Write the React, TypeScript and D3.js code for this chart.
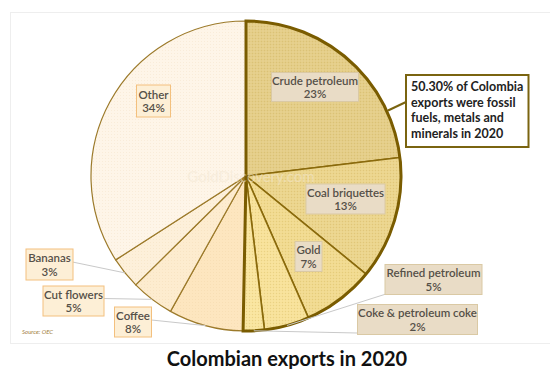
import React from "react";
import * as d3 from "d3";

const categories = [
  "Crude petroleum",
  "Coal briquettes",
  "Gold",
  "Refined petroleum",
  "Coke & petroleum coke",
  "Coffee",
  "Cut flowers",
  "Bananas",
  "Other",
];
const shares = [23.1, 12.8, 7.5, 4.7, 2.2, 7.8, 4.5, 3.3, 34.1];
const shareLabels = ["23%", "13%", "7%", "5%", "2%", "8%", "5%", "3%", "34%"];
const fossilGroup = ["Crude petroleum", "Coal briquettes", "Gold", "Refined petroleum", "Coke & petroleum coke"];
const calloutLines = ["50.30% of Colombia", "exports were fossil", "fuels, metals and", "minerals in 2020"];
const titleText = "Colombian exports in 2020";

const W = 550;
const H = 369;
const cx = 246;
const cy = 176;
const R = 155;

const fills: Record<string, string> = {
  "Crude petroleum": "#e4cd86",
  "Coal briquettes": "#ebd48b",
  Gold: "#f1da8e",
  "Refined petroleum": "#f7e198",
  "Coke & petroleum coke": "#f9e49d",
  Coffee: "#fde6bf",
  "Cut flowers": "#fdeccf",
  Bananas: "#fdf0da",
  Other: "#fef5e8",
};

// label box layout: center x, center y, width, height, leader anchor (x,y)
const labelLayout: Record<string, { x: number; y: number; w: number; h: number; lead?: [number, number] }> = {
  "Crude petroleum": { x: 315, y: 87, w: 87, h: 29 },
  "Coal briquettes": { x: 345.5, y: 199, w: 79, h: 30 },
  Gold: { x: 308.5, y: 256.5, w: 27, h: 30 },
  "Refined petroleum": { x: 433.5, y: 279.5, w: 97, h: 30, lead: [386, 294] },
  "Coke & petroleum coke": { x: 417.5, y: 319.5, w: 120, h: 30, lead: [357, 333] },
  Coffee: { x: 133, y: 322, w: 37, h: 30, lead: [151.5, 320] },
  "Cut flowers": { x: 73.5, y: 301, w: 61, h: 30, lead: [104, 298.5] },
  Bananas: { x: 49.5, y: 264.5, w: 47, h: 31, lead: [72.5, 262] },
  Other: { x: 153.5, y: 101, w: 34, h: 32 },
};

export default function App() {
  const data = categories.map((c, i) => ({ name: c, value: shares[i], label: shareLabels[i] }));
  const pie = d3
    .pie<{ name: string; value: number; label: string }>()
    .sort(null)
    .value((d) => d.value)
    .startAngle(0)
    .endAngle(2 * Math.PI);
  const arcs = pie(data);
  const arc = d3.arc<d3.PieArcDatum<any>>().innerRadius(0).outerRadius(R);

  const fossilArcs = arcs.filter((a) => fossilGroup.includes(a.data.name));
  const fStart = d3.min(fossilArcs, (a) => a.startAngle) as number;
  const fEnd = d3.max(fossilArcs, (a) => a.endAngle) as number;
  const groupPath = d3.arc()({ innerRadius: 0, outerRadius: R, startAngle: fStart, endAngle: fEnd }) as string;

  const pt = (angle: number, r: number): [number, number] => [cx + r * Math.sin(angle), cy - r * Math.cos(angle)];

  return (
    <svg width={W} height={H} style={{ position: "absolute", left: 0, top: 0 }} fontFamily="Lato, 'Open Sans', sans-serif">
      <defs>
        <pattern id="hatch" width="3" height="3" patternUnits="userSpaceOnUse">
          <rect width="1" height="1" fill="#b89640" opacity="0.22" />
          <rect x="1.5" y="1.5" width="1" height="1" fill="#ffffff" opacity="0.25" />
        </pattern>
        <pattern id="hatchLight" width="3" height="3" patternUnits="userSpaceOnUse">
          <rect width="1" height="1" fill="#d9b070" opacity="0.12" />
        </pattern>
      </defs>
      <rect x={0} y={0} width={W} height={H} fill="#ffffff" />
      <rect x={10.5} y={12.5} width={545} height={331} fill="#ffffff" stroke="#eeeeee" strokeWidth={1} />

      <g transform={`translate(${cx},${cy})`}>
        {arcs.map((a) => (
          <g key={a.data.name}>
            <path d={arc(a) as string} fill={fills[a.data.name]} />
            <path
              d={arc(a) as string}
              fill={fossilGroup.includes(a.data.name) ? "url(#hatch)" : "url(#hatchLight)"}
              stroke={fossilGroup.includes(a.data.name) ? "#8a6a0c" : "#9c7a2a"}
              strokeWidth={fossilGroup.includes(a.data.name) ? 1.6 : 1.2}
              strokeLinejoin="round"
            />
          </g>
        ))}
        <path d={groupPath} fill="none" stroke="#7a5c00" strokeWidth={3} strokeLinejoin="miter" />
      </g>

      <text x={251} y={182} textAnchor="middle" fontSize={15} fill="#f3e7d2" opacity={0.5}>
        GoldDiscovery.com
      </text>

      {arcs.map((a) => {
        const L = labelLayout[a.data.name];
        if (!L.lead) return null;
        const mid = (a.startAngle + a.endAngle) / 2;
        const [ex, ey] = pt(mid, R);
        return <line key={"l" + a.data.name} x1={L.lead[0]} y1={L.lead[1]} x2={ex} y2={ey} stroke="#c9c9c9" strokeWidth={1} />;
      })}

      {arcs.map((a) => {
        const L = labelLayout[a.data.name];
        const fossil = fossilGroup.includes(a.data.name);
        return (
          <g key={"b" + a.data.name}>
            <rect
              x={L.x - L.w / 2}
              y={L.y - L.h / 2}
              width={L.w}
              height={L.h}
              fill={fossil ? "#e9dcc6" : "#fdefd6"}
              stroke={fossil ? "#dac9a4" : "#f3c07e"}
              strokeWidth={1}
            />
            <text x={L.x} y={L.y - 2.5} textAnchor="middle" fontSize={11.5} fontWeight={600} fill="#555048">
              {a.data.name}
            </text>
            <text x={L.x} y={L.y + 11} textAnchor="middle" fontSize={11.5} fontWeight={600} fill="#555048">
              {a.data.label}
            </text>
          </g>
        );
      })}

      <line x1={388} y1={110.5} x2={406} y2={102} stroke="#7a6410" strokeWidth={2} />
      <rect x={406} y={75} width={122.5} height={72} fill="#ffffff" stroke="#7a6410" strokeWidth={2} />
      {calloutLines.map((t, i) => (
        <text key={t} x={411} y={91 + i * 15.5} fontSize={12.5} fontWeight={700} fill="#222222">
          {t}
        </text>
      ))}

      <text x={22} y={334} fontSize={6} fontStyle="italic" fill="#a07c3a">
        Source: OEC
      </text>

      <text x={287} y={366} textAnchor="middle" fontSize={20} fontWeight={700} fill="#111111">
        {titleText}
      </text>
    </svg>
  );
}
